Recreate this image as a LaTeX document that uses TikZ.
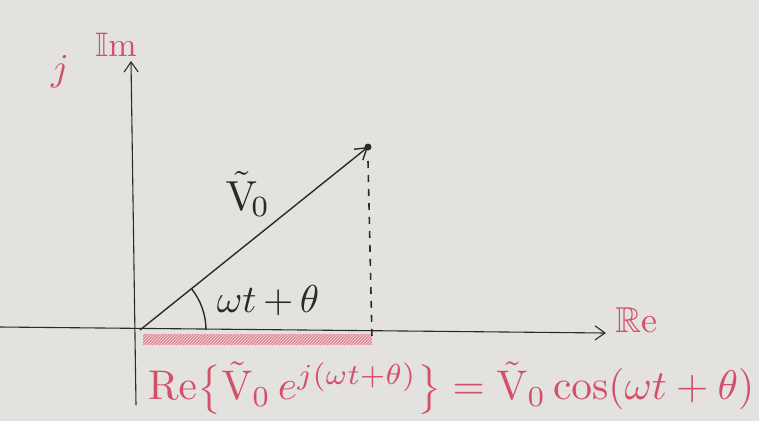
\documentclass[tikz,border=0pt]{standalone}
\usepackage{amsmath,amssymb}
\usetikzlibrary{arrows.meta,patterns}
\definecolor{paper}{HTML}{E4E2DE}
\definecolor{ink}{HTML}{2A2A2A}
\definecolor{redink}{HTML}{D2506A}
\tikzset{
  axis/.style={draw=ink, line width=1.1pt, -{Straight Barb[length=10pt,width=14pt]}},
  phasor/.style={draw=ink, line width=1.4pt, -{Straight Barb[length=11pt,width=14pt]}},
  proj/.style={draw=ink, line width=1.6pt, dash pattern=on 7pt off 7pt},
  redtxt/.style={text=redink, inner sep=0pt},
  blacktxt/.style={text=ink, inner sep=0pt}
}
\begin{document}
\begin{tikzpicture}[x=1pt,y=-1pt]
\useasboundingbox (0,0) rectangle (759,421);
\fill[paper] (0,0) rectangle (759,421);
% key points
\coordinate (O) at (140,330);
\coordinate (ybot) at (136,405);
\coordinate (ytop) at (131,61);
\coordinate (xleft) at (0,327);
\coordinate (xright) at (606,333);
\coordinate (tip) at (368,147);
\coordinate (foot) at (372,338);
% red projection bar
\fill[redink!75, opacity=0.85] (143,334) rectangle (372,345);
\fill[pattern=north east lines, pattern color=white!80!redink] (143,334) rectangle (372,345);
% axes
\draw[axis] (ybot) -- (ytop);
\draw[axis] (xleft) -- (xright);
% phasor
\draw[phasor] (O) -- (tip);
\fill[ink] (tip) circle (3.5pt);
\draw[proj] ([yshift=-14pt]tip) -- (foot);
% angle arc
\draw[ink, line width=1.4pt] (O) ++(-38.9:66) arc[start angle=-38.9, end angle=0, radius=66];
% labels
\node[blacktxt] (vlab) at (248,194) {\scalebox{4.2}{$\tilde{\mathrm{V}}_{\!0}$}};
\node[blacktxt] (angle) at (268,301) {\scalebox{3.9}{$\omega t\,{+}\,\theta$}};
\node[redtxt] (jlab) at (60,72) {\scalebox{3.8}{$j$}};
\node[redtxt] (imlab) at (116,45) {\scalebox{3.4}{$\mathbb{I}\mathrm{m}$}};
\node[redtxt] (relab) at (636,320) {\scalebox{3.6}{$\mathbb{R}\mathrm{e}$}};
\node[redtxt, anchor=west] (formula) at (148,388) {\resizebox{606pt}{!}{$\mathrm{Re}\bigl\{\tilde{\mathrm{V}}_0\, e^{j(\omega t+\theta)}\bigr\} = \tilde{\mathrm{V}}_0\cos(\omega t+\theta)$}};
\end{tikzpicture}
\end{document}
